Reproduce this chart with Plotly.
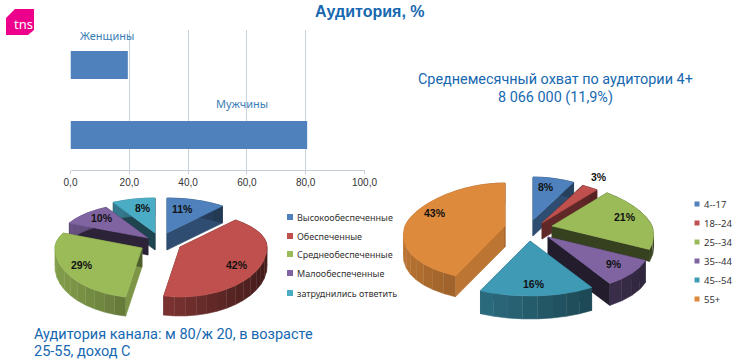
import numpy as np
import plotly.graph_objects as go

# ---------- data ----------
bar_categories = ["Мужчины", "Женщины"]
bar_values = [80.5, 19.5]
bar_ticks = [0, 20, 40, 60, 80, 100]

income_labels = ["Высокообеспеченные", "Обеспеченные", "Среднеобеспеченные", "Малообеспеченные", "затруднились ответить"]
income_values = [11, 42, 29, 10, 8]

age_labels = ["4--17", "18--24", "25--34", "35--44", "45--54", "55+"]
age_values = [8, 3, 21, 9, 16, 43]

# ---------- styles ----------
BLUE, RED, GREEN, PURPLE, TEAL, ORANGE = "#4f81bd", "#c0504d", "#9bbb59", "#8064a2", "#3f9ab5", "#de8a3c"
TXT = "#1668b0"


def shade(hexc, f):
    r, g, b = [int(hexc[i:i + 2], 16) for i in (1, 3, 5)]
    return f"rgb({int(r * f)},{int(g * f)},{int(b * f)})"


def poly(x, y, color):
    return go.Scatter(x=list(x), y=list(y), xaxis="x2", yaxis="y2", mode="lines", fill="toself",
                      fillcolor=color, line=dict(color=color, width=0.6), hoverinfo="skip", showlegend=False)


def rim(th, cx, cy, rx, k, ru, rd):
    c, s = np.cos(th), np.sin(th)
    r = rx * (1 - k * c)
    return cx + r * s, cy - np.where(c > 0, ru, rd) * c


def pie3d(values, colors, center, offsets, order, depths, faces, rx, k, ru, rd):
    edges = np.radians(np.concatenate([[0], np.cumsum(values) / np.sum(values) * 360]))
    out = []
    for i in order:
        a0, a1 = edges[i], edges[i + 1]
        cx, cy = center[0] + offsets[i][0], center[1] + offsets[i][1]
        d = depths[i]
        col = colors[i]
        # radial cut faces
        for ang, f in zip((a0, a1), faces[i]):
            px, py = rim(np.array([ang]), cx, cy, rx, k, ru, rd)
            out.append(poly([cx, px[0], px[0], cx, cx], [cy, py[0], py[0] + d, cy + d, cy], shade(col, f)))
        # outer wall in strips, lit from the left
        n = max(2, int(np.degrees(a1 - a0) / 7))
        t = np.linspace(a0, a1, n + 1)
        for j in range(n):
            tt = np.linspace(t[j], t[j + 1], 5)
            px, py = rim(tt, cx, cy, rx, k, ru, rd)
            f = 0.6 - 0.25 * np.sin((t[j] + t[j + 1]) / 2)
            out.append(poly(np.r_[px, px[::-1]], np.r_[py, py[::-1] + d], shade(col, f)))
        # top surface
        tt = np.linspace(a0, a1, 60)
        px, py = rim(tt, cx, cy, rx, k, ru, rd)
        out.append(poly(np.r_[cx, px, cx], np.r_[cy, py, cy], col))
    return out


fig = go.Figure()

# bar chart on its own axes
fig.add_trace(go.Bar(y=bar_categories, x=bar_values, orientation="h", marker=dict(color=BLUE, line=dict(width=0)),
                     width=0.4, hoverinfo="skip", showlegend=False))

# left pie
for tr in pie3d(income_values, [BLUE, RED, GREEN, PURPLE, "#4bacc6"], (160, 240),
                [(7, -7), (20, 7), (-18, 8), (-12, -2), (-5, -7)], [4, 0, 3, 2, 1],
                [17, 19, 19, 17, 17],
                [(0.6, 0.6), (0.5, 0.5), (0.8, 0.5), (0.35, 0.35), (0.4, 0.4)],
                87, 0.0, 35, 50):
    fig.add_trace(tr)

# right pie
for tr in pie3d(age_values, [BLUE, RED, GREEN, PURPLE, TEAL, ORANGE], (530, 228),
                [(3, -8), (12, -5), (22, -2), (18, 9), (0, 13), (-25, -2)], [0, 1, 5, 2, 3, 4],
                [16, 16, 12, 22, 23, 21],
                [(0.6, 0.6), (0.5, 0.5), (0.5, 0.35), (0.3, 0.28), (0.5, 0.5), (0.85, 0.7)],
                100, 0.18, 43, 55):
    fig.add_trace(tr)

# legend swatches
leg1_y = [217, 236, 254, 273, 293]
leg2_y = [204, 223, 242, 261, 280, 299]
fig.add_trace(go.Scatter(x=[290] * 5, y=leg1_y, xaxis="x2", yaxis="y2", mode="markers", hoverinfo="skip", showlegend=False,
                         marker=dict(symbol="square", size=6, color=[BLUE, RED, GREEN, PURPLE, "#4bacc6"])))
fig.add_trace(go.Scatter(x=[697] * 6, y=leg2_y, xaxis="x2", yaxis="y2", mode="markers", hoverinfo="skip", showlegend=False,
                         marker=dict(symbol="square", size=5, color=[BLUE, RED, GREEN, PURPLE, TEAL, ORANGE])))


def note(x, y, text, size, color, bold=False, anchor="center", family="Liberation Sans"):
    fig.add_annotation(x=x, y=y, xref="x2", yref="y2", text=f"<b>{text}</b>" if bold else text, showarrow=False,
                       xanchor=anchor, yanchor="middle", font=dict(size=size, color=color, family=family))


note(370, 11, "Аудитория, %", 16, TXT, bold=True)
note(78, 35, bar_categories[1], 11, "#3a7db5", anchor="left", family="Noto Sans")
note(214, 103, bar_categories[0], 11, "#3a7db5", anchor="left", family="Noto Sans")
note(555, 79.5, "Среднемесячный охват по аудитории 4+", 14.4, TXT, family="Roboto")
note(555, 97, "8 066 000 (11,9%)", 14.4, TXT, family="Roboto")
note(32, 334, "Аудитория канала: м 80/ж 20, в возрасте", 14.5, TXT, anchor="left", family="Roboto")
note(32, 351, "25-55, доход С", 14.5, TXT, anchor="left", family="Roboto")

for v, (x, y) in zip(income_values, [(182, 209), (237, 265), (82, 265), (102, 218), (143, 208)]):
    note(x, y, f"{v}%", 10.5, "#111", bold=True)
for v, (x, y) in zip(age_values, [(546, 187), (599, 177), (625, 217), (614, 264), (534, 284), (435, 213)]):
    note(x, y, f"{v}%", 10.5, "#111", bold=True)
for lab, y in zip(income_labels, leg1_y):
    note(295, y, lab, 9, "#333", anchor="left", family="Noto Sans")
for lab, y in zip(age_labels, leg2_y):
    note(701.5, y, lab, 9.5, "#333", anchor="left", family="Noto Sans")

# logo
fig.add_shape(type="path", xref="x2", yref="y2", line=dict(width=0), fillcolor="#ec008c", layer="above",
              path="M 6 18 L 15 9 L 34 9 L 34 30 L 28 35 L 6 35 Z")
note(12, 24, "tns", 13, "white", anchor="left", family="Noto Sans")

W, H = 740, 359
fig.update_layout(
    width=W, height=H, margin=dict(l=0, r=0, t=0, b=0, autoexpand=False), autosize=False,
    paper_bgcolor="white", plot_bgcolor="rgba(0,0,0,0)", separators=", ", showlegend=False, bargap=0.6,
    xaxis=dict(domain=[70.5 / W, 364.5 / W], range=[0, 100], tickvals=bar_ticks, tickformat=".1f",
               showgrid=True, gridcolor="#c8d2df", gridwidth=1, zeroline=False, showline=True, linecolor="#c4ccd8",
               ticks="outside", ticklen=3, tickcolor="#c4ccd8", tickfont=dict(size=10, color="#333", family="Liberation Sans"),
               anchor="y"),
    yaxis=dict(domain=[(H - 170) / H, (H - 30) / H], showticklabels=False, showgrid=False, zeroline=False,
               showline=False, ticks="", anchor="x"),
    xaxis2=dict(domain=[0, 1], range=[0, W], visible=False, anchor="y2", fixedrange=True),
    yaxis2=dict(domain=[0, 1], range=[H, 0], visible=False, anchor="x2", fixedrange=True),
)
fig.write_html("out.html", config={"displayModeBar": False},
               post_script="document.body.style.margin='0';document.body.style.overflow='hidden';")
